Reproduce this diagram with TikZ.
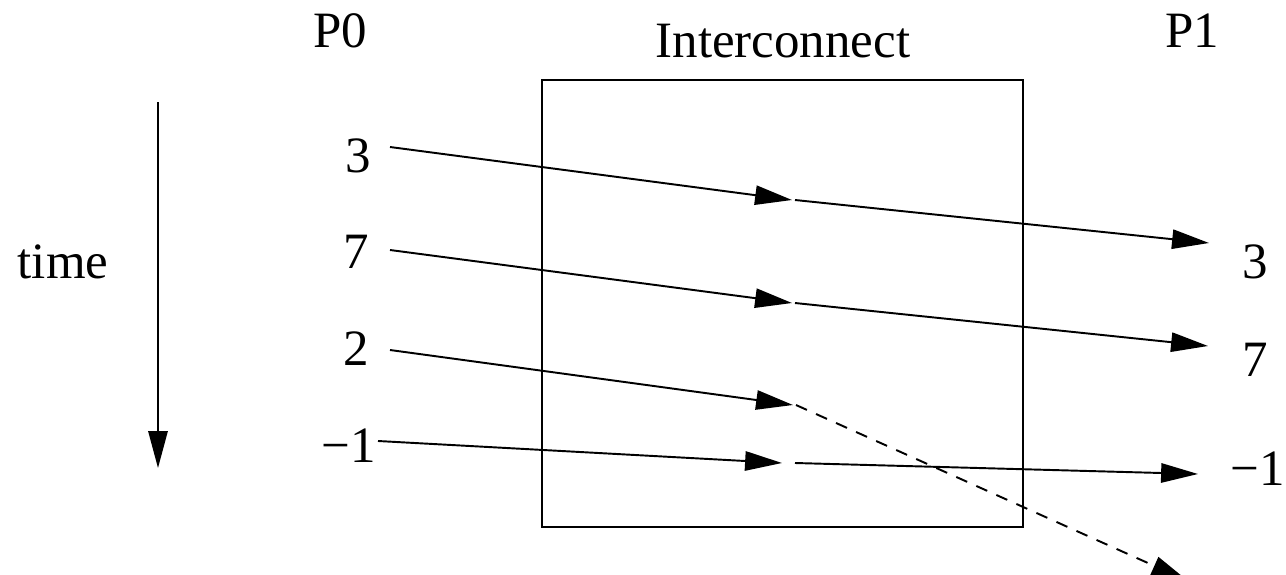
\documentclass[tikz,border=0pt]{standalone}
\usepackage{fontspec}
\setmainfont{Liberation Serif}
\usetikzlibrary{arrows.meta}

\begin{document}
\begin{tikzpicture}[x=0.02cm,y=-0.02cm]

\tikzset{lbl/.style={anchor=base,inner sep=0pt,font=\fontsize{29}{34}\selectfont}}
\tikzset{msg/.style={-{Triangle[length=21pt,width=11pt]},line width=1.1pt}}
\tikzset{lost/.style={msg,dash pattern=on 6.8pt off 5.7pt}}

\useasboundingbox (0,0) rectangle (1286,575);

\node[lbl] (p0) at (340,47) {P0};
\node[lbl] (p1) at (1192,47) {P1};
\node[lbl] (title) at (783,57) {Interconnect};
\node[draw,line width=1.1pt,minimum width=9.62cm,minimum height=8.94cm] (ic) at (782.5,303.5) {};

\node[lbl] (time) at (63,278) {time};
\coordinate (t0) at (158,102);
\coordinate (t1) at (158,468);
\draw[msg] (t0) -- (t1);

% sent by P0
\node[lbl] (l3) at (358,172) {3};
\node[lbl] (l7) at (356,268) {7};
\node[lbl] (l2) at (356,365) {2};
\node[lbl] (l1) at (349,462) {−1};

% received by P1
\node[lbl] (r3) at (1255,278) {3};
\node[lbl] (r7) at (1255,376) {7};
\node[lbl] (r1) at (1258,485) {−1};

\coordinate (s3) at (390,147); \coordinate (m3) at (792,200); \coordinate (n3) at (795,200); \coordinate (e3) at (1209,243);
\coordinate (s7) at (390,250); \coordinate (m7) at (792,303); \coordinate (n7) at (795,303); \coordinate (e7) at (1208,346);
\coordinate (s2) at (390,350); \coordinate (m2) at (793,405); \coordinate (n2) at (796,405); \coordinate (e2) at (1188,581);
\coordinate (s1) at (378,441); \coordinate (m1) at (782,463); \coordinate (n1) at (795,463); \coordinate (e1) at (1198,474);

\draw[msg] (s3) -- (m3);
\draw[msg] (n3) -- (e3);
\draw[msg] (s7) -- (m7);
\draw[msg] (n7) -- (e7);
\draw[msg] (s2) -- (m2);
\draw[lost] (n2) -- (e2);
\draw[msg] (s1) -- (m1);
\draw[msg] (n1) -- (e1);

\end{tikzpicture}
\end{document}
